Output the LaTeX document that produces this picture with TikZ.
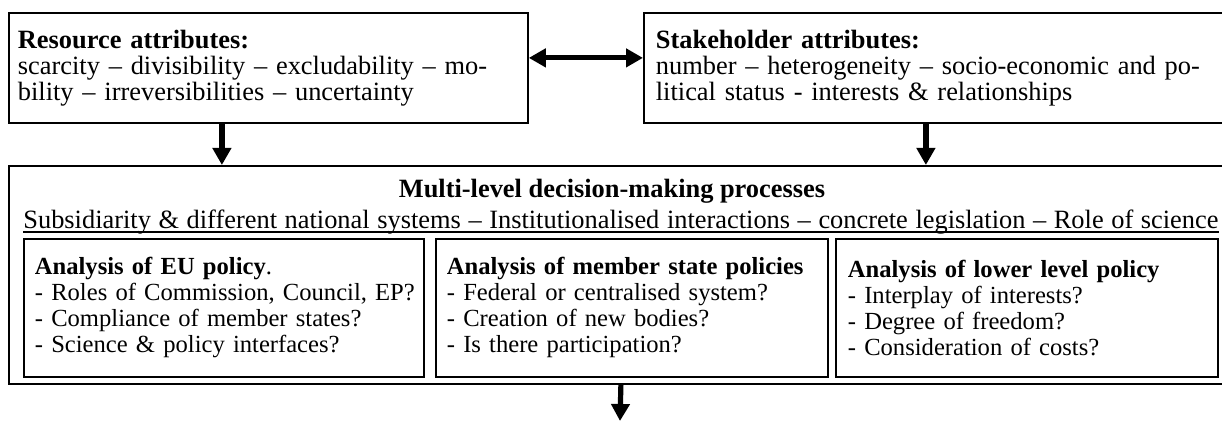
\documentclass[tikz,border=0pt]{standalone}
\usepackage{fontspec}
\setmainfont{Liberation Serif}
\usetikzlibrary{arrows.meta}

\begin{document}
\begin{tikzpicture}[x=0.5pt,y=-0.5pt,
    font=\fontsize{13.2}{13}\selectfont,
    box/.style={draw,line width=0.9pt,anchor=north west,align=left,inner sep=0pt},
    inbox/.style={box,minimum height=69pt,font=\fontsize{12.3}{13}\selectfont},
    arr/.style={line width=2.6pt,-{Triangle[length=8.5pt,width=9pt]}}]
  \useasboundingbox (0,0) rectangle (1222,421);
  \clip (0,0) rectangle (1222,421);
  % attribute boxes
  \node[box,minimum width=259.5pt,minimum height=55pt,text width=250.5pt] (res) at (8,12)
    {\textbf{Resource attributes:}\\
     \makebox[244pt][s]{scarcity -- divisibility -- excludability -- mo-}\\
     bility -- irreversibilities -- uncertainty};
  \node[box,minimum width=294.5pt,minimum height=55pt,text width=282.5pt] (stake) at (643,12)
    {\textbf{Stakeholder attributes:}\\
     \makebox[262.5pt][s]{number -- heterogeneity -- socio-economic and po-}\\
     litical status - interests \& relationships};
  % decision-making processes
  \node[box,minimum width=612pt,minimum height=109pt] (multi) at (8,165) {};
  \node[font=\fontsize{13.2}{13}\selectfont\bfseries,anchor=base] (title) at (612,198)
    {Multi-level decision-making processes};
  \node[inner sep=0pt,anchor=base west] (sub) at (23,229)
    {\makebox[597.5pt][s]{Subsidiarity \& different national systems -- Institutionalised interactions -- concrete legislation -- Role of science}};
  \draw[line width=0.6pt] ([yshift=-1.5pt]sub.base west) -- ([yshift=-1.5pt]sub.base east);
  \node[inbox,minimum width=200pt,text width=189pt] (eu) at (23,238)
    {\textbf{Analysis of EU policy}.\\
     \mbox{- Roles of Commission, Council, EP?}\\
     - Compliance of member states?\\
     - Science \& policy interfaces?};
  \node[inbox,minimum width=196pt,text width=185pt] (ms) at (435,238)
    {\textbf{Analysis of member state policies}\\
     - Federal or centralised system?\\
     - Creation of new bodies?\\
     - Is there participation?};
  \node[inbox,minimum width=191pt,text width=179pt] (low) at (835,238)
    {\textbf{Analysis of lower level policy}\\
     - Interplay of interests?\\
     - Degree of freedom?\\
     - Consideration of costs?};
  \coordinate (next) at (620,421);
  % arrows
  \draw[arr,{Triangle[length=8.5pt,width=9pt]}-{Triangle[length=8.5pt,width=9pt]}]
    ([yshift=5pt]res.east) -- ([yshift=5pt]stake.west);
  \draw[arr] (res.south) ++(-46.5,0) coordinate (r) -- (r |- multi.north);
  \draw[arr] (stake.south) ++(-12.5,0) coordinate (s) -- (s |- multi.north);
  \draw[arr] (multi.south) -- (next);
\end{tikzpicture}
\end{document}
